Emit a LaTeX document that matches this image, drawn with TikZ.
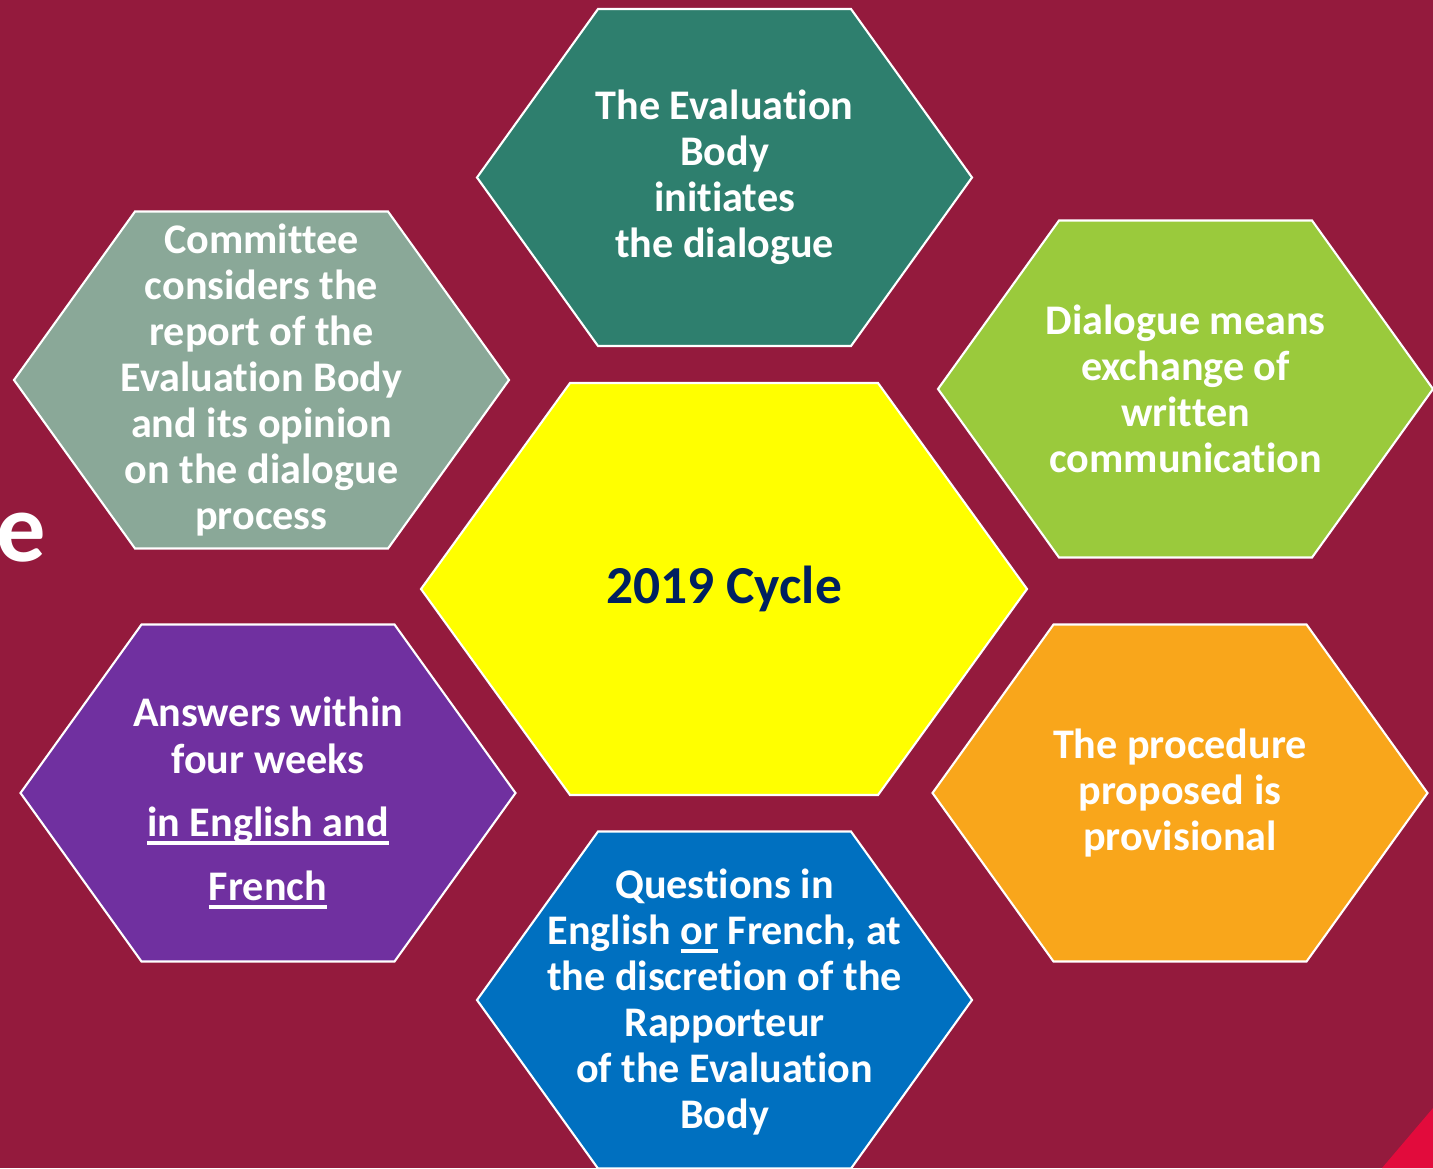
\documentclass[tikz,border=0pt]{standalone}
\usepackage{fontspec}
\setmainfont{Carlito}[Ligatures=NoCommon]
\usetikzlibrary{positioning}
\definecolor{slidebg}{HTML}{941A3D}
\definecolor{cornerred}{HTML}{E20B3C}
\definecolor{tealcell}{HTML}{2E7F6E}
\definecolor{sagecell}{HTML}{8AA898}
\definecolor{limecell}{HTML}{9ACA3C}
\definecolor{purplecell}{HTML}{7030A0}
\definecolor{orangecell}{HTML}{F9A61B}
\definecolor{bluecell}{HTML}{0070C0}
\definecolor{yellowcell}{HTML}{FFFF00}
\definecolor{navytext}{HTML}{002060}
\tikzset{
  cell/.style={text=white, font=\bfseries\fontsize{12}{13.1}\selectfont, align=center, inner sep=0pt},
  hexline/.style={draw=white, line width=0.6pt}
}
% outer hexagon around a named centre
\newcommand{\hexcell}[2]{%
  \path[hexline, fill=#2] (#1) ++(-2.475,0) -- ++(1.21,1.685) -- ++(2.53,0)
    -- ++(1.21,-1.685) -- ++(-1.21,-1.685) -- ++(-2.53,0) -- cycle;}
\newlength\undlw
\newcommand{\undl}[1]{\settowidth{\undlw}{#1}\rlap{\rule[-0.2em]{\undlw}{0.085em}}#1}

\begin{document}
\begin{tikzpicture}
  \useasboundingbox (0,0) rectangle (14.33,11.68);
  \fill[slidebg] (0,0) rectangle (14.33,11.68);
  \fill[cornerred] (14.33,0.60) -- (14.33,0) -- (13.82,0) -- cycle;
  \node[text=white, font=\bfseries\fontsize{28}{32}\selectfont, inner sep=0pt, anchor=base west] (title) at (-0.04,6.07) {e};

  \coordinate (top) at (7.245,9.905);
  \coordinate (upleft) at (2.615,7.88);
  \coordinate (upright) at (11.855,7.79);
  \coordinate (lowleft) at (2.68,3.75);
  \coordinate (lowright) at (11.80,3.75);
  \coordinate (bottom) at (7.245,1.68);
  \coordinate (centre) at (7.24,5.79);

  \hexcell{top}{tealcell}
  \hexcell{upleft}{sagecell}
  \hexcell{upright}{limecell}
  \hexcell{lowleft}{purplecell}
  \hexcell{lowright}{orangecell}
  \hexcell{bottom}{bluecell}
  \path[hexline, fill=yellowcell] (centre) ++(-3.03,0) -- ++(1.49,2.06) -- ++(3.08,0)
    -- ++(1.49,-2.06) -- ++(-1.49,-2.06) -- ++(-3.08,0) -- cycle;

  \node[cell] (initiates) at (top) {The Evaluation\\Body\\initiates\\the dialogue};
  \node[cell] (committee) at (upleft) {Committee\\considers the\\report of the\\Evaluation Body\\and its opinion\\on the dialogue\\process};
  \node[cell] (written) at (upright) {Dialogue means\\exchange of\\written\\communication};
  \node[cell] (answers) at ([yshift=-0.10cm]lowleft) {Answers within\\four weeks\\[5pt]\undl{in English and}\\[5pt]\undl{French}};
  \node[cell] (provisional) at (lowright) {The procedure\\proposed is\\provisional};
  \node[cell] (questions) at ([yshift=-0.02cm]bottom) {Questions in\\English \undl{or} French, at\\the discretion of the\\Rapporteur\\of the Evaluation\\Body};
  \node[cell, text=navytext, font=\bfseries\fontsize{15.2}{18}\selectfont] (cycle) at (centre) {2019 Cycle};
\end{tikzpicture}
\end{document}
